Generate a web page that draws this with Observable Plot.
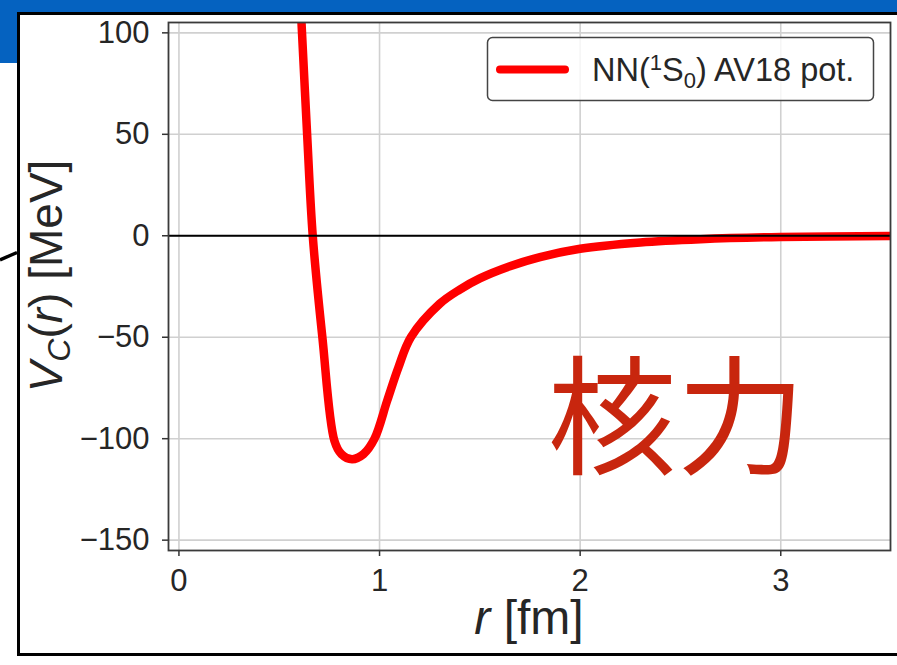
<!DOCTYPE html>
<html>
<head>
<meta charset="utf-8">
<script src="https://cdn.jsdelivr.net/npm/d3@7"></script>
<script src="https://cdn.jsdelivr.net/npm/@observablehq/plot@0.6"></script>
<style>
  html, body { margin: 0; padding: 0; background: #fff; }
  #wrap { position: relative; width: 897px; height: 665px; overflow: hidden; background: #fff; }
  #chart { position: absolute; left: 0; top: 0; }
  #over { position: absolute; left: 0; top: 0; }
</style>
</head>
<body>
<div id="wrap">
  <div style="position:absolute;left:0;top:0;width:897px;height:63px;background:#0562c0"></div>
  <div style="position:absolute;left:17px;top:12px;width:1000px;height:644px;border:3px solid #000;box-sizing:border-box;background:#fff"></div>
  <div id="chart"></div>
  <svg id="over" width="897" height="665" font-family="'Liberation Sans', Arial, sans-serif" fill="#262626">
    <line x1="0" y1="260" x2="17" y2="252.5" stroke="#000" stroke-width="3.5"/>
    <rect x="487.5" y="37.5" width="386" height="63" rx="5" ry="5" fill="rgba(255,255,255,0.8)" stroke="#444" stroke-width="1.5"/>
    <line x1="500" y1="69.5" x2="565" y2="69.5" stroke="#ff0000" stroke-width="8" stroke-linecap="round"/>
    <text x="592" y="81" font-size="32.5">NN(<tspan font-size="22" dy="-11">1</tspan><tspan font-size="32.5" dy="11">S</tspan><tspan font-size="22" dy="7">0</tspan><tspan font-size="32.5" dy="-7">) AV18 pot.</tspan></text>
    <text x="529" y="634" font-size="48" text-anchor="middle"><tspan font-style="italic">r</tspan> [fm]</text>
    <text transform="translate(62,276) rotate(-90)" font-size="46" text-anchor="middle"><tspan font-style="italic">V</tspan><tspan font-style="italic" font-size="32" dy="8">C</tspan><tspan dy="-8">(</tspan><tspan font-style="italic">r</tspan>) [MeV]</text>
  </svg>
</div>
<script>
// ---- data ----
const rFm = [0.60, 0.611, 0.639, 0.667, 0.715, 0.775, 0.81, 0.863, 0.92, 0.975, 1.038, 1.094, 1.156, 1.30, 1.40, 1.50, 1.65, 1.80, 2.0, 2.3, 2.6, 3.0, 3.56];
const vMeV = [125, 105, 50, 0, -50, -101, -107.6, -110.1, -107.6, -100, -81.3, -64.9, -50, -33.5, -26.5, -21, -15, -10.5, -6.4, -3.3, -1.7, -0.6, -0.1];
const xTicks = [0, 1, 2, 3];
const yTicks = [-150, -100, -50, 0, 50, 100];
const xDomain = [-0.052, 3.547];
const yDomain = [-155.1, 105.1];
const annotLabel = ["核力"];
const annotR = [2.48];
const annotV = [-92.5];

const curve = rFm.map((r, i) => ({r, v: vMeV[i]}));
const annot = annotLabel.map((t, i) => ({label: t, r: annotR[i], v: annotV[i]}));
const fmt = d => d < 0 ? "\u2212" + Math.abs(d) : String(d);

const chart = Plot.plot({
  width: 897,
  height: 665,
  marginLeft: 168,
  marginRight: 7,
  marginTop: 22,
  marginBottom: 115,
  x: {domain: xDomain},
  y: {domain: yDomain},
  style: "background: transparent; font-family: 'Liberation Sans', Arial, sans-serif; font-size: 31px; color: #262626; overflow: visible;",
  marks: [
    Plot.gridX(xTicks, {stroke: "#d0d0d0", strokeOpacity: 1, strokeWidth: 1.6}),
    Plot.gridY(yTicks, {stroke: "#d0d0d0", strokeOpacity: 1, strokeWidth: 1.6}),
    Plot.axisX(xTicks, {tickSize: 6, tickPadding: 12, label: null, tickFormat: fmt, stroke: "#333", strokeWidth: 1.5}),
    Plot.axisY(yTicks, {tickSize: 6, tickPadding: 13, label: null, tickFormat: fmt, stroke: "#333", strokeWidth: 1.5}),
    Plot.text(annot, {x: "r", y: "v", text: "label", fill: "#c8260e", fontSize: 129, fontFamily: "'Noto Sans CJK JP', 'Noto Sans CJK SC', sans-serif"}),
    Plot.line(curve, {x: "r", y: "v", stroke: "#ff0000", strokeWidth: 8.5, curve: "catmull-rom", clip: true}),
    Plot.ruleY([0], {stroke: "#000", strokeWidth: 2.2}),
    Plot.frame({stroke: "#3a3a3a", strokeWidth: 1.8})
  ]
});
document.getElementById("chart").appendChild(chart);
</script>
</body>
</html>
